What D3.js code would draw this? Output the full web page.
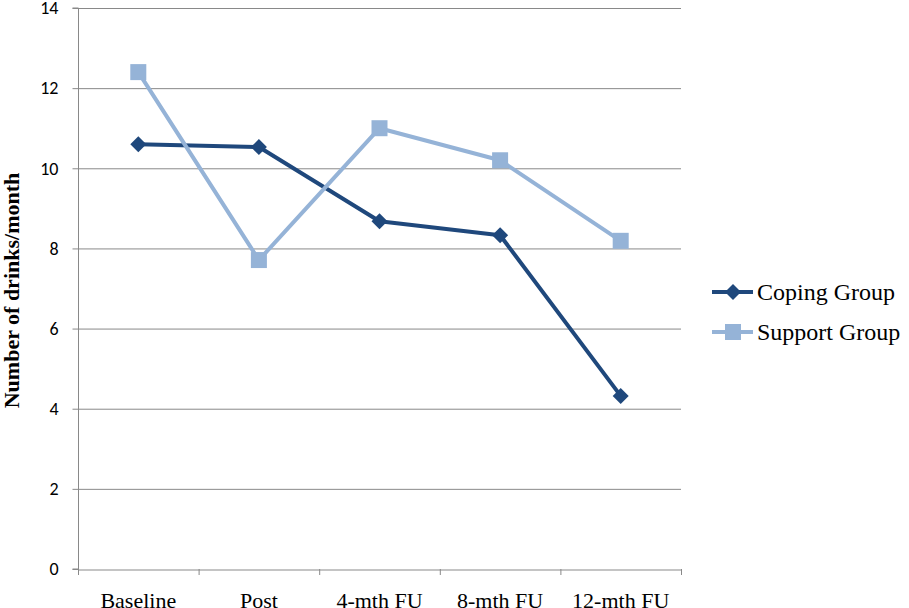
<!DOCTYPE html>
<html>
<head>
<meta charset="utf-8">
<script src="https://cdn.jsdelivr.net/npm/d3@7"></script>
<style>
  body { margin: 0; background: #fff; }
  svg { display: block; }
</style>
</head>
<body>
<div id="chart"></div>
<script>
// Chart data
const categories = ["Baseline", "Post", "4-mth FU", "8-mth FU", "12-mth FU"];
const copingValues = [10.6, 10.53, 8.68, 8.33, 4.32];
const supportValues = [12.4, 7.71, 11.0, 10.2, 8.19];
const yTicks = [0, 2, 4, 6, 8, 10, 12, 14];
const seriesNames = ["Coping Group", "Support Group"];

const width = 909;
const height = 608;
const margin = { left: 78, right: 228, top: 8, bottom: 39 };

const svg = d3.select("#chart")
    .append("svg")
    .attr("width", width)
    .attr("height", height);

// Scales
const x = d3.scaleBand()
    .domain(categories)
    .range([margin.left, width - margin.right])
    .paddingInner(0)
    .paddingOuter(0);

const y = d3.scaleLinear()
    .domain([0, 14])
    .range([height - margin.bottom, margin.top]);

// Horizontal gridlines
svg.append("g")
    .selectAll("line")
    .data(yTicks.filter(d => d > 0))
    .enter().append("line")
    .attr("x1", margin.left)
    .attr("x2", width - margin.right)
    .attr("y1", d => y(d) + 0.5)
    .attr("y2", d => y(d) + 0.5)
    .attr("stroke", "#898989")
    .attr("stroke-width", 1);

// Y axis
const yAxis = svg.append("g")
    .attr("transform", `translate(${margin.left + 0.5},0)`)
    .call(d3.axisLeft(y).tickValues(yTicks).tickSize(6).tickPadding(14));
yAxis.select(".domain").attr("stroke", "#898989").attr("d", `M-6,${y(14)}H0V${y(0)}H-6`);
yAxis.selectAll(".tick line").attr("stroke", "#898989");
yAxis.selectAll("text")
    .attr("font-family", "Carlito, 'Open Sans', Calibri, sans-serif")
    .attr("font-size", 18)
    .attr("fill", "#000");

// X axis
const xAxis = svg.append("g")
    .attr("transform", `translate(0,${y(0) + 0.5})`)
    .call(d3.axisBottom(x).tickSize(0));
xAxis.select(".domain").attr("stroke", "#898989");
xAxis.selectAll("text")
    .attr("y", 38)
    .attr("dy", null)
    .attr("font-family", "'Liberation Serif', 'Times New Roman', serif")
    .attr("font-size", 22)
    .attr("fill", "#000");

// X tick marks at band boundaries
const bounds = categories.map(c => x(c)).concat([x(categories[categories.length - 1]) + x.bandwidth()]);
svg.append("g")
    .selectAll("line")
    .data(bounds)
    .enter().append("line")
    .attr("x1", d => d + 0.5)
    .attr("x2", d => d + 0.5)
    .attr("y1", y(0))
    .attr("y2", y(0) + 6)
    .attr("stroke", "#898989");

// Y axis title
svg.append("text")
    .attr("transform", `translate(19,${(y(0) + y(14)) / 2 + 2}) rotate(-90)`)
    .attr("text-anchor", "middle")
    .attr("font-family", "'Liberation Serif', 'Times New Roman', serif")
    .attr("font-weight", "bold")
    .attr("font-size", 22)
    .text("Number of drinks/month");

const cx = c => x(c) + x.bandwidth() / 2;

const line = d3.line()
    .x((d, i) => cx(categories[i]))
    .y(d => y(d));

const series = [
    { name: seriesNames[0], values: copingValues, color: "#1F487C", marker: "diamond" },
    { name: seriesNames[1], values: supportValues, color: "#95B3D7", marker: "square" }
];

function drawMarker(g, type, color) {
    if (type === "diamond") {
        g.append("path")
            .attr("d", "M0,-8L8,0L0,8L-8,0Z")
            .attr("fill", color);
    } else {
        g.append("rect")
            .attr("x", -8).attr("y", -8)
            .attr("width", 16).attr("height", 16)
            .attr("fill", color);
    }
}

series.forEach(s => {
    svg.append("path")
        .datum(s.values)
        .attr("fill", "none")
        .attr("stroke", s.color)
        .attr("stroke-width", 4)
        .attr("stroke-linejoin", "round")
        .attr("d", line);

    s.values.forEach((v, i) => {
        const g = svg.append("g")
            .attr("transform", `translate(${cx(categories[i])},${y(v)})`);
        drawMarker(g, s.marker, s.color);
    });
});

// Legend
const legend = svg.append("g");
series.forEach((s, i) => {
    const ly = 292 + i * 40;
    const g = legend.append("g").attr("transform", `translate(712,${ly})`);
    g.append("line")
        .attr("x1", 0).attr("x2", 41)
        .attr("y1", 0).attr("y2", 0)
        .attr("stroke", s.color)
        .attr("stroke-width", 4);
    const m = g.append("g").attr("transform", "translate(21,0)");
    drawMarker(m, s.marker, s.color);
    g.append("text")
        .attr("x", 45)
        .attr("y", 0)
        .attr("dy", "0.35em")
        .attr("font-family", "'Liberation Serif', 'Times New Roman', serif")
        .attr("font-size", 24)
        .text(s.name);
});
</script>
</body>
</html>
